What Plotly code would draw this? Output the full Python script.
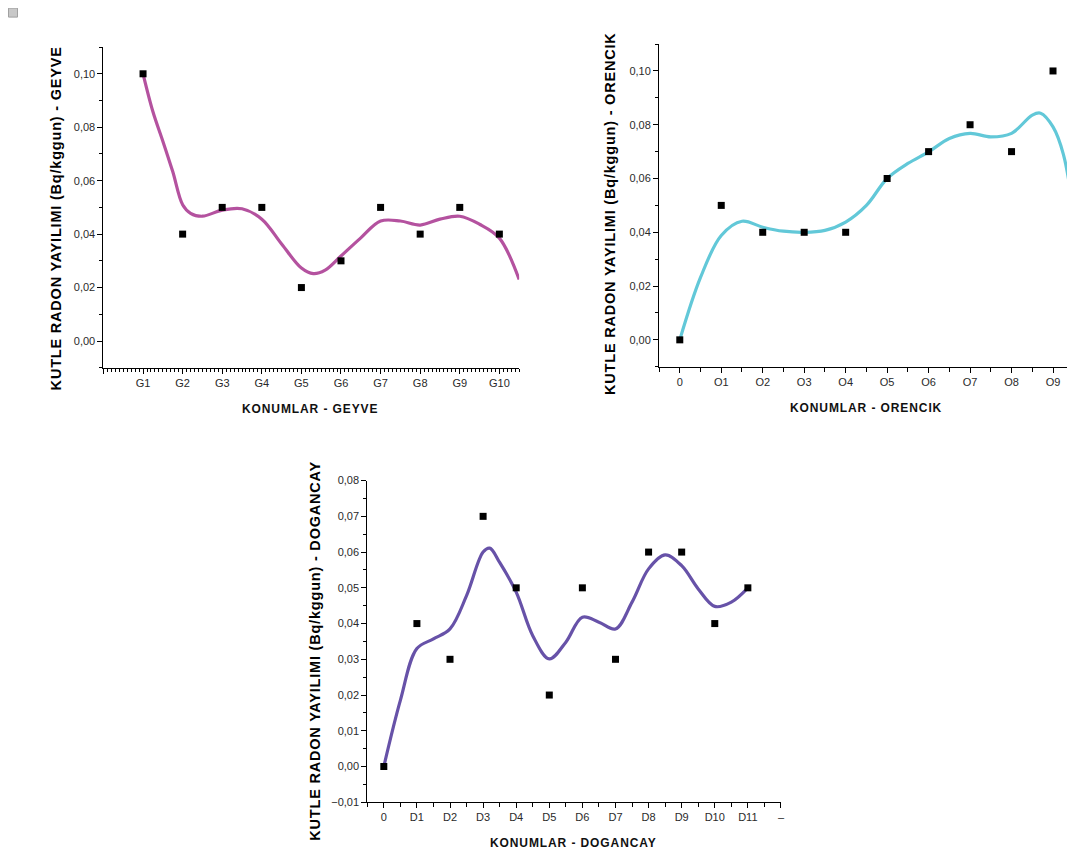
import plotly.graph_objects as go

# figure canvas; page body adds an 8px margin
OFF = 8
W, H = 1075, 854

# ---------------- data ----------------
geyve_labels = ["G1", "G2", "G3", "G4", "G5", "G6", "G7", "G8", "G9", "G10"]
geyve_x = [1, 2, 3, 4, 5, 6, 7, 8, 9, 10]
geyve_y = [0.10, 0.04, 0.05, 0.05, 0.02, 0.03, 0.05, 0.04, 0.05, 0.04]
geyve_curve_x = [1, 1.25, 1.5, 1.75, 2, 2.2, 2.5, 3, 3.5, 4, 4.5, 5, 5.3, 5.6, 6, 6.5, 7, 7.5, 8, 8.5, 9, 9.5, 10, 10.5]
geyve_curve_y = [0.100, 0.0858, 0.0748, 0.0634, 0.051, 0.0478, 0.0467, 0.049, 0.0495, 0.0456, 0.0363,
                 0.0273, 0.0252, 0.0265, 0.0318, 0.0386, 0.0449, 0.0449, 0.0434, 0.0456, 0.0467,
                 0.0437, 0.0385, 0.023]

orencik_labels = ["0", "O1", "O2", "O3", "O4", "O5", "O6", "O7", "O8", "O9"]
orencik_x = [0, 1, 2, 3, 4, 5, 6, 7, 8, 9]
orencik_y = [0.0, 0.05, 0.04, 0.04, 0.04, 0.06, 0.07, 0.08, 0.07, 0.10]
orencik_curve_x = [0, 0.5, 1, 1.5, 2, 2.5, 3, 3.5, 4, 4.5, 5, 5.5, 6, 6.5, 7, 7.5, 8, 8.5, 8.7, 9, 9.25, 9.5]
orencik_curve_y = [0.0, 0.0232, 0.0388, 0.0441, 0.0419, 0.0404, 0.040, 0.0407, 0.0438, 0.050,
                   0.060, 0.0656, 0.0699, 0.0749, 0.0768, 0.0755, 0.0768, 0.0836, 0.0843, 0.0792, 0.069, 0.047]

dogancay_labels = ["0", "D1", "D2", "D3", "D4", "D5", "D6", "D7", "D8", "D9", "D10", "D11", "–"]
dogancay_x = [0, 1, 2, 3, 4, 5, 6, 7, 8, 9, 10, 11]
dogancay_y = [0.0, 0.04, 0.03, 0.07, 0.05, 0.02, 0.05, 0.03, 0.06, 0.06, 0.04, 0.05]
dogancay_curve_x = [0, 0.5, 1, 1.5, 2, 2.5, 3, 3.2, 3.5, 4, 4.5, 5, 5.5, 6, 6.5, 7, 7.5, 8, 8.5, 9, 9.5, 10, 10.5, 11]
dogancay_curve_y = [0.0, 0.0185, 0.033, 0.0357, 0.0385, 0.0478, 0.060, 0.0611, 0.0571, 0.0488, 0.0366,
                    0.0301, 0.0348, 0.0418, 0.0404, 0.0385, 0.046, 0.0553, 0.0592, 0.0562, 0.0497,
                    0.0448, 0.046, 0.050]

y_title = "KUTLE RADON YAYILIMI (Bq/kggun) - "
x_title = "KONUMLAR - "

FONT = "Arial, Liberation Sans, sans-serif"
TICKFONT = dict(family=FONT, size=11, color="#2a2a2a")


# map a target screen pixel to a paper fraction (compensates page offset / capture scale)
def px_x(v):
    page = (v - 0.5) / 0.997
    return (page - OFF) / W


def px_y(v):
    page = (v - 5.0) / 0.987
    return 1 - (page - OFF) / H


# ---------------- layout geometry (target pixels) ----------------
panels = [
    dict(name="GEYVE", x0=104, x1=520, ytop=46, ybot=367, color="#B4529F",
         xr=[0, 10.5], yr=[-0.01, 0.11], ydt=0.02, yminor=0.01,
         tickvals=[0] + geyve_x, ticktext=[""] + geyve_labels, xminor=0.1,
         px=geyve_x, py=geyve_y, cx=geyve_curve_x, cy=geyve_curve_y,
         ytx=56, yty=217, xtx=311, xty=408),
    dict(name="ORENCIK", x0=660, x1=1075, ytop=43, ybot=366, color="#62C8D8",
         xr=[-0.5, 9.5], yr=[-0.01, 0.11], ydt=0.02, yminor=0.01,
         tickvals=orencik_x, ticktext=orencik_labels, xminor=0.5,
         px=orencik_x, py=orencik_y, cx=orencik_curve_x, cy=orencik_curve_y,
         ytx=611, yty=213, xtx=867, xty=407),
    dict(name="DOGANCAY", x0=368, x1=782, ytop=480, ybot=802, color="#6752A8",
         xr=[-0.5, 12], yr=[-0.01, 0.08], ydt=0.01, yminor=0.005,
         tickvals=dogancay_x + [12], ticktext=dogancay_labels, xminor=0.5,
         px=dogancay_x, py=dogancay_y, cx=dogancay_curve_x, cy=dogancay_curve_y,
         ytx=316, yty=650, xtx=574, xty=843),
]

fig = go.Figure()
annotations = []
layout_axes = {}

for i, p in enumerate(panels, start=1):
    xa = "x" if i == 1 else f"x{i}"
    ya = "y" if i == 1 else f"y{i}"
    fig.add_trace(go.Scatter(x=p["cx"], y=p["cy"], mode="lines",
                             line=dict(color=p["color"], width=3.2, shape="spline", smoothing=1.0),
                             xaxis=xa, yaxis=ya, showlegend=False, hoverinfo="skip",
                             cliponaxis=True))
    fig.add_trace(go.Scatter(x=p["px"], y=p["py"], mode="markers",
                             marker=dict(symbol="square", size=7, color="black"),
                             xaxis=xa, yaxis=ya, showlegend=False, cliponaxis=False))
    xkey = "xaxis" if i == 1 else f"xaxis{i}"
    ykey = "yaxis" if i == 1 else f"yaxis{i}"
    layout_axes[xkey] = dict(
        domain=[px_x(p["x0"]), min(1.0, px_x(p["x1"]))], anchor=ya, range=p["xr"],
        showgrid=False, zeroline=False, showline=True, linecolor="black", linewidth=1,
        ticks="outside", ticklen=5, tickwidth=1, tickcolor="black",
        tickmode="array", tickvals=p["tickvals"], ticktext=p["ticktext"],
        tickfont=TICKFONT,
        minor=dict(dtick=p["xminor"], tick0=0, ticks="outside", ticklen=3 if p["xminor"] < 0.5 else 4,
                   tickwidth=1, tickcolor="black", showgrid=False),
    )
    layout_axes[ykey] = dict(
        domain=[px_y(p["ybot"]), px_y(p["ytop"])], anchor=xa, range=p["yr"],
        showgrid=False, zeroline=False, showline=True, linecolor="black", linewidth=1,
        ticks="outside", ticklen=5, tickwidth=1, tickcolor="black",
        dtick=p["ydt"], tick0=0, tickformat=".2f", tickfont=TICKFONT,
        minor=dict(dtick=p["yminor"], tick0=0, ticks="outside", ticklen=3,
                   tickwidth=1, tickcolor="black", showgrid=False),
    )
    annotations.append(dict(
        x=px_x(p["ytx"]), y=px_y(p["yty"]), xref="paper", yref="paper",
        text='<span style="letter-spacing:0.8px"><b>' + y_title + p["name"] + "</b></span>",
        textangle=-90, showarrow=False,
        font=dict(family=FONT, size=14.5, color="black"), xanchor="center", yanchor="middle"))
    annotations.append(dict(
        x=px_x(p["xtx"]), y=px_y(p["xty"]), xref="paper", yref="paper",
        text='<span style="letter-spacing:0.9px"><b>' + x_title + p["name"] + "</b></span>",
        showarrow=False, font=dict(family=FONT, size=12, color="#111111"),
        xanchor="center", yanchor="middle"))

fig.update_layout(
    width=W, height=H, margin=dict(l=0, r=0, t=0, b=0),
    paper_bgcolor="white", plot_bgcolor="white",
    separators=",.",
    annotations=annotations,
    shapes=[dict(type="rect", xref="paper", yref="paper",
                 x0=px_x(9), x1=px_x(18), y0=px_y(16), y1=px_y(7),
                 fillcolor="#c8c8c8", line=dict(color="#a0a0a0", width=1))],
    **layout_axes,
)

fig.write_html("out.html")
